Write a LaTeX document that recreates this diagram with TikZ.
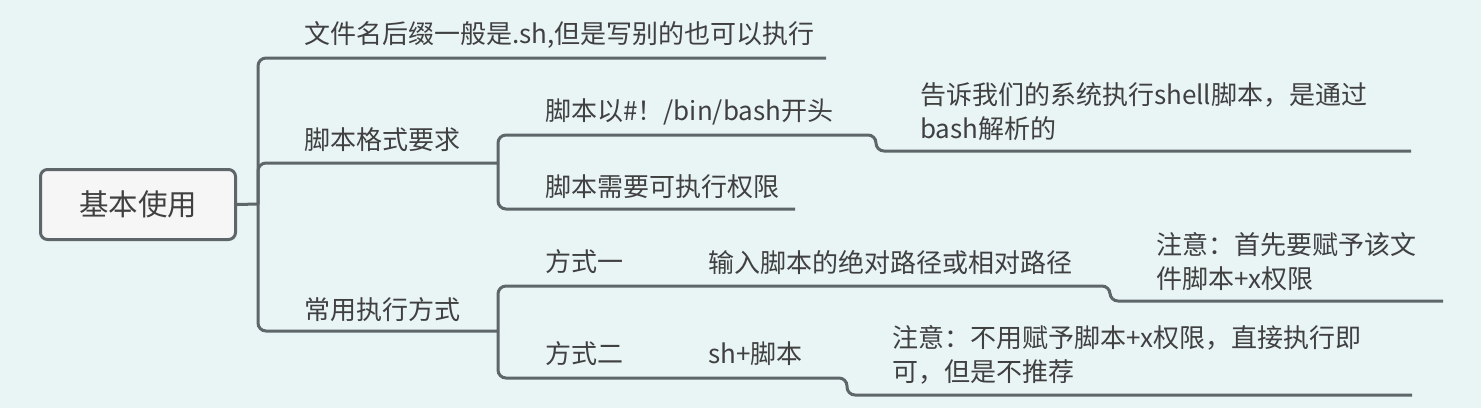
\documentclass[tikz,border=0pt]{standalone}
\usepackage{fontspec}
\setmainfont{Noto Sans CJK SC}
\usetikzlibrary{positioning,calc}

\definecolor{bgcol}{RGB}{233,244,245}
\definecolor{linecol}{RGB}{94,102,105}
\definecolor{textcol}{RGB}{64,64,64}
\definecolor{rootfill}{RGB}{246,246,246}

\tikzset{
  topic/.style={anchor=west, inner sep=0pt, text=textcol, align=left,
    font=\fontsize{26}{34}\selectfont},
  branch/.style={draw=linecol, line width=3pt, rounded corners=8pt},
  rootbox/.style={draw=linecol, line width=3pt, fill=rootfill, rounded corners=7pt,
    minimum width=195pt, minimum height=70pt, text=textcol,
    font=\fontsize{29.5}{34}\selectfont}
}

\begin{document}
\begin{tikzpicture}[x=1pt, y=-1pt]
\fill[bgcol] (0,0) rectangle (1481,408);
\useasboundingbox (0,0) rectangle (1481,408);

% 中心主题
\node[rootbox] (root) at (138,204.5) {基本使用};

% 一级主题
\node[topic] (suffix) at (304,35) {文件名后缀一般是.sh,但是写别的也可以执行};
\node[topic] (format) at (304,140) {脚本格式要求};
\node[topic] (usage) at (304,310) {常用执行方式};

% 二级主题
\node[topic] (shebang) at (545,112) {脚本以\#！/bin/bash开头};
\node[topic] (perm) at (545,187) {脚本需要可执行权限};
\node[topic] (way1) at (545,262) {方式一};
\node[topic] (way2) at (545,354) {方式二};

% 三级主题
\node[topic] (bashnote) at (920,112) {告诉我们的系统执行shell脚本，是通过\\bash解析的};
\node[topic] (path) at (708,262) {输入脚本的绝对路径或相对路径};
\node[topic] (shrun) at (708,354) {sh+脚本};
\node[topic] (note1) at (1156,262) {注意：首先要赋予该文\\件脚本+x权限};
\node[topic] (note2) at (892,355) {注意：不用赋予脚本+x权限，直接执行即\\可，但是不推荐};

% 连线端点
\coordinate (spine) at (258,204);
\coordinate (suffixend) at (826,58);
\coordinate (formatend) at (498,163);
\coordinate (usageend) at (498,331);
\coordinate (shebangend) at (876,135);
\coordinate (bashnoteend) at (1411,151);
\coordinate (permend) at (795,209);
\coordinate (pathend) at (1110,286);
\coordinate (note1end) at (1443,301);
\coordinate (shrunend) at (847,378);
\coordinate (note2end) at (1412,395);

% 连接
\draw[branch] (root.east) -- (spine);
\draw[branch] (spine) |- (suffixend);
\draw[branch] (spine) |- (formatend);
\draw[branch] (spine) |- (usageend);
\draw[branch] (formatend) |- (shebangend) |- (bashnoteend);
\draw[branch] (formatend) |- (permend);
\draw[branch] (usageend) |- (pathend) |- (note1end);
\draw[branch] (usageend) |- (shrunend) |- (note2end);
\end{tikzpicture}
\end{document}
